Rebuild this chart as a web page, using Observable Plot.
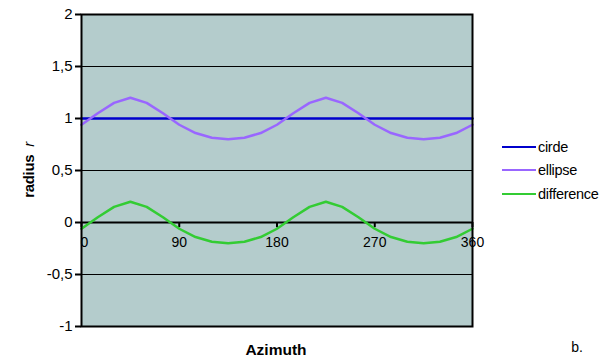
<!DOCTYPE html>
<html><head><meta charset="utf-8">
<script src="https://cdn.jsdelivr.net/npm/d3@7"></script>
<script src="https://cdn.jsdelivr.net/npm/@observablehq/plot@0.6"></script>
<style>
body{margin:0;background:#fff;font-family:"Liberation Sans",Arial,sans-serif;}
#wrap{position:relative;width:606px;height:359px;}
.legend{position:absolute;left:502px;top:135px;font-size:14.5px;color:#000;letter-spacing:-0.3px;}
.legend div{display:flex;align-items:center;height:23.5px;}
.legend span.sw{display:inline-block;width:34px;height:2px;margin-right:2px;}
</style></head>
<body><div id="wrap"></div>
<script>
const azimuth = [0,15,30,45,60,75,90,105,120,135,150,165,180,195,210,225,240,255,270,285,300,315,330,345,360];
const circle = [1,1,1,1,1,1,1,1,1,1,1,1,1,1,1,1,1,1,1,1,1,1,1,1,1];
const ellipse = [0.94,1.05,1.15,1.2,1.15,1.05,0.94,0.86,0.815,0.8,0.815,0.86,0.94,1.05,1.15,1.2,1.15,1.05,0.94,0.86,0.815,0.8,0.815,0.86,0.94];
const difference = [-0.06,0.05,0.15,0.2,0.15,0.05,-0.06,-0.14,-0.185,-0.2,-0.185,-0.14,-0.06,0.05,0.15,0.2,0.15,0.05,-0.06,-0.14,-0.185,-0.2,-0.185,-0.14,-0.06];
const seriesNames = ["cirde","ellipse","difference"];
const seriesColors = ["#0000cc","#9966ff","#33cc33"];
const yTicks = [-1,-0.5,0,0.5,1,1.5,2];
const yTickLabels = ["-1","-0,5","0","0,5","1","1,5","2"];
const xTicks = [0,90,180,270,360];
const xTickLabels = ["0","90","180","270","360"];

const rows = [];
[circle, ellipse, difference].forEach((arr,i)=>arr.forEach((v,j)=>rows.push({az:azimuth[j], r:v, s:seriesNames[i]})));
const xLab = xTicks.map((d,i)=>({x:d, t:xTickLabels[i]}));

const font = '"Liberation Sans",Arial,sans-serif';
const chart = Plot.plot({
  width:606, height:359,
  marginLeft:81, marginRight:134, marginTop:14, marginBottom:33,
  style:{fontFamily:font, background:"transparent"},
  x:{domain:[0,360], axis:null},
  y:{domain:[-1,2], label:null},
  color:{domain:seriesNames, range:seriesColors},
  marks:[
    Plot.frame({fill:"#b4cccc"}),
    Plot.ruleY(yTicks.filter(d=>d!==0), {stroke:"#000", strokeWidth:1}),
    Plot.ruleY([0], {stroke:"#000", strokeWidth:2}),
    Plot.ruleX(xTicks, {y1:0, y2:-0.05, stroke:"#000", strokeWidth:2}),
    Plot.text(xLab.slice(1), {x:"x", y:0, dy:20, text:"t", fontSize:14, fill:"#000"}),
    Plot.text(xLab.slice(0,1), {x:"x", y:0, dy:20, dx:3, text:"t", fontSize:14, fill:"#000"}),
    Plot.axisY(yTicks, {tickFormat:(d)=>yTickLabels[yTicks.indexOf(d)], tickSize:6, tickPadding:3, fontSize:15, stroke:"#000", strokeWidth:2, color:"#000", label:null}),
    Plot.line(rows, {x:"az", y:"r", z:"s", stroke:"s", strokeWidth:2.5, curve:"linear"}),
    Plot.frame({stroke:"#000", strokeWidth:2})
  ]
});
const wrap = document.getElementById("wrap");
wrap.appendChild(chart);
const svg = d3.select(chart);
const yl = svg.append("text").attr("transform","translate(34,170) rotate(-90)").attr("text-anchor","middle")
  .attr("font-family",font).attr("font-size",15).attr("fill","#000").attr("letter-spacing","-0.3");
yl.append("tspan").attr("font-weight","bold").text("radius");
yl.append("tspan").attr("font-style","italic").text("  r");
svg.append("text").attr("x",276).attr("y",355).attr("text-anchor","middle").attr("font-family",font)
  .attr("font-size",15.5).attr("font-weight","bold").attr("fill","#000").text("Azimuth");
svg.append("text").attr("x",577).attr("y",352).attr("font-family",font).attr("font-size",14).attr("fill","#000").text("b.");

const leg = document.createElement("div");
leg.className="legend";
seriesNames.forEach((n,i)=>{
  const d=document.createElement("div");
  d.innerHTML=`<span class="sw" style="background:${seriesColors[i]}"></span>${n}`;
  leg.appendChild(d);
});
wrap.appendChild(leg);
</script></body></html>
